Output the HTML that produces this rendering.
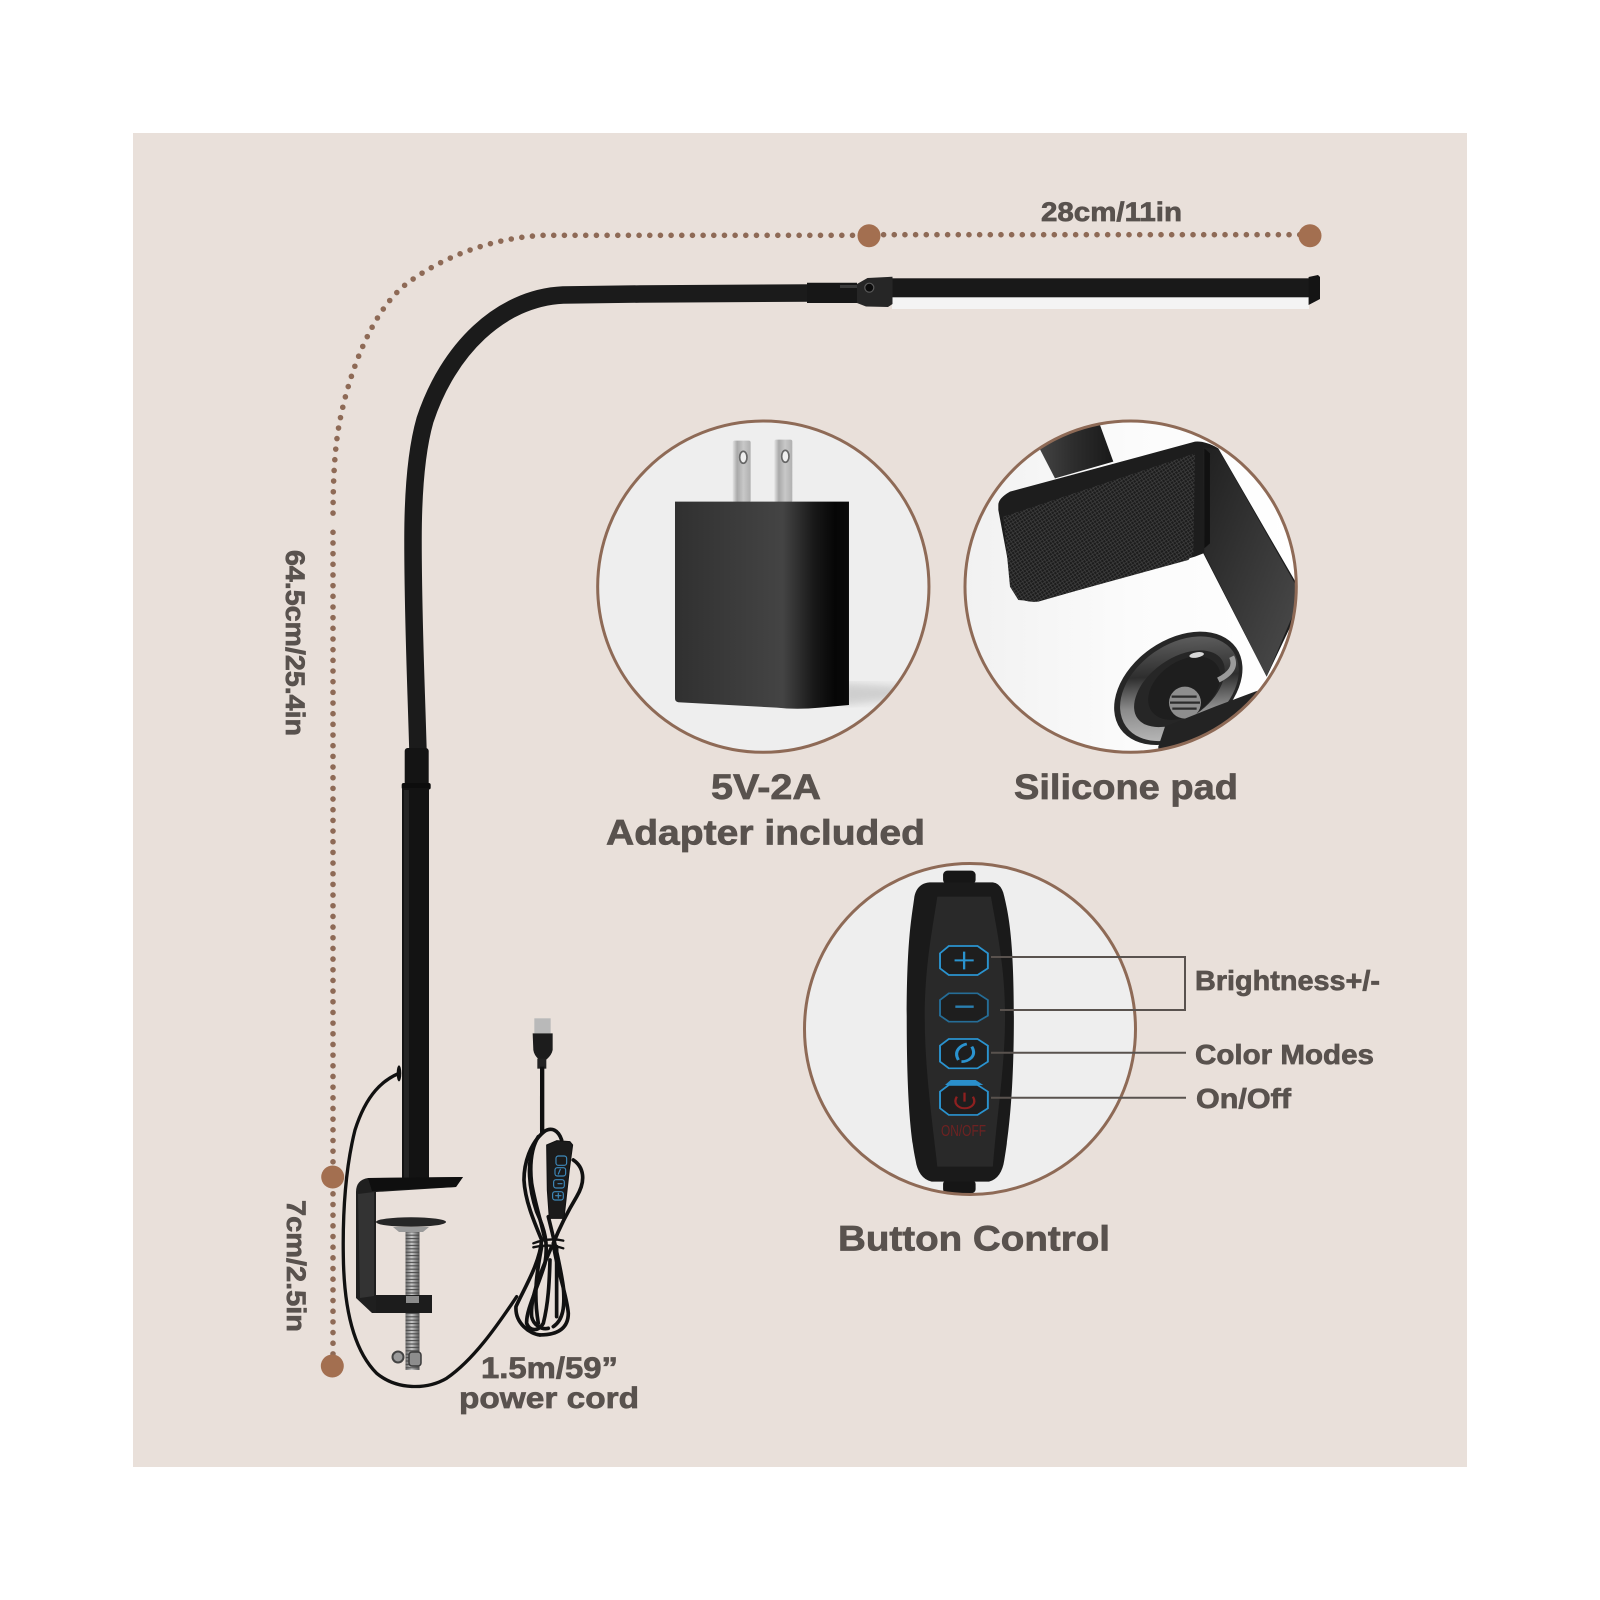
<!DOCTYPE html>
<html><head><meta charset="utf-8"><style>html,body{margin:0;padding:0;background:#fff}svg{display:block}
text{font-family:"Liberation Sans",sans-serif;font-weight:700;fill:#59524e;stroke:#59524e;stroke-width:.7}</style></head><body>
<svg xmlns="http://www.w3.org/2000/svg" width="1600" height="1600" viewBox="0 0 1600 1600">
<defs>
<clipPath id="c1"><circle cx="520" cy="530" r="497"/></clipPath>
<clipPath id="c2"><circle cx="527" cy="530" r="497"/></clipPath>
<clipPath id="c3"><circle cx="970" cy="1029" r="165.5"/></clipPath>
<linearGradient id="ad" x1="0" x2="1" y1="0" y2="0"><stop offset="0" stop-color="#303030"/><stop offset=".3" stop-color="#3a3a3a"/><stop offset=".62" stop-color="#444"/><stop offset=".8" stop-color="#181818"/><stop offset=".92" stop-color="#060606"/><stop offset="1" stop-color="#0a0a0a"/></linearGradient>
<linearGradient id="pr" x1="0" x2="1" y1="0" y2="0"><stop offset="0" stop-color="#e4e4e4"/><stop offset=".25" stop-color="#a9a9a9"/><stop offset=".6" stop-color="#c8c8c8"/><stop offset="1" stop-color="#b0b0b0"/></linearGradient>
<linearGradient id="bolt" x1="0" x2="1" y1="0" y2="0"><stop offset="0" stop-color="#6b6b6b"/><stop offset=".45" stop-color="#c9c9c9"/><stop offset="1" stop-color="#555"/></linearGradient>
<linearGradient id="srf" x1="0" x2="1" y1="0" y2="0"><stop offset="0" stop-color="#f1f1f1"/><stop offset=".5" stop-color="#fbfbfb"/><stop offset="1" stop-color="#fff"/></linearGradient>
<linearGradient id="brk" x1="0" x2="1" y1="0" y2="1"><stop offset="0" stop-color="#202020"/><stop offset="1" stop-color="#4c4c4c"/></linearGradient>
<linearGradient id="pole" x1="0" x2="1" y1="0" y2="0"><stop offset="0" stop-color="#4a4a4a"/><stop offset=".5" stop-color="#2e2e2e"/><stop offset="1" stop-color="#191919"/></linearGradient>
<linearGradient id="ring" x1="0" x2="1" y1="1" y2="0"><stop offset="0" stop-color="#c4c4c4"/><stop offset=".35" stop-color="#8b8b8b"/><stop offset=".6" stop-color="#2e2e2e"/><stop offset="1" stop-color="#6a6a6a"/></linearGradient>
<pattern id="mesh" width="13" height="13" patternUnits="userSpaceOnUse" patternTransform="rotate(12)"><rect width="13" height="13" fill="#1c1c1c"/><path d="M0 0L13 13M13 0L0 13" stroke="#444" stroke-width="1.8"/></pattern>
<pattern id="thr" width="6" height="3.4" patternUnits="userSpaceOnUse"><path d="M0 1H6" stroke="#4a4a4a" stroke-width="1.1"/></pattern>
<filter id="bl"><feGaussianBlur stdDeviation="12"/></filter>
</defs>
<rect width="1600" height="1600" fill="#fff"/>
<rect x="133" y="133" width="1334" height="1334" fill="#e9e0da"/>

<!-- dotted measures -->
<g fill="none" stroke="#8e6a56" stroke-width="5.6" stroke-linecap="round" stroke-dasharray="0 10.67">
<path d="M852.5 235.3L543.3 235.3C490 238 440 258 405 285C372 312 350 370 340 420C334 450 333 485 333 521.7"/>
<path d="M883.6 234.7L1300 234.7"/>
<path d="M333 532.3L333 1360"/>
</g>
<g fill="#a36f50"><circle cx="869" cy="235.7" r="11.5"/><circle cx="1310" cy="235.7" r="11.5"/><circle cx="332.7" cy="1177" r="11.5"/><circle cx="332.3" cy="1366" r="11.5"/></g>

<!-- lamp arm -->
<path d="M810 293L640 294L563 295C500 298 448 350 425 420C415 455 413 500 413 540C413 620 416 680 418 752" fill="none" stroke="#1b1b1b" stroke-width="17.5"/>
<rect x="404.7" y="748" width="24" height="40" rx="3" fill="#141414"/>
<rect x="401.7" y="783" width="29" height="6.5" rx="2" fill="#0d0d0d"/>
<rect x="402" y="788" width="27" height="392" fill="#131313"/>
<rect x="404" y="790" width="5" height="388" fill="#242424"/>
<!-- head -->
<rect x="892" y="297" width="417" height="12" fill="#f4f4f4"/>
<rect x="892" y="278.3" width="417" height="19" fill="#191919"/>
<path d="M1308.6 277L1318 275L1320 277L1320 299L1308.6 305Z" fill="#141414"/>
<path d="M807 282.7L857 282.7L857 303L807 303Z" fill="#171717"/>
<path d="M857 284L867.5 278L892.5 276.7L892.5 304L888 307L866 306.5L857 303Z" fill="#262626"/>
<rect x="840" y="285" width="17" height="3" fill="#3a3a3a"/>
<circle cx="869.3" cy="287.7" r="4.5" fill="#0c0c0c" stroke="#5a5a5a" stroke-width="1.2"/>

<!-- clamp -->
<path d="M356 1192Q356 1180 368 1178L463 1177L456 1187L376 1192L376 1295L432 1295L432 1313L372 1313L356 1298Z" fill="#1f1f1f"/>
<path d="M358 1194L374 1192L374 1296L360 1298Z" fill="#333"/>
<path d="M368 1178L463 1177L456 1187L372 1191Z" fill="#0f0f0f"/>
<rect x="405.5" y="1232" width="14" height="138" fill="url(#bolt)"/>
<rect x="405.5" y="1232" width="14" height="138" fill="url(#thr)"/>
<path d="M393 1227L429 1227L423 1232L399 1232Z" fill="#9a9a9a"/>
<ellipse cx="411" cy="1222" rx="35" ry="4.8" fill="#262626"/>
<rect x="376" y="1295" width="56" height="18" fill="#1c1c1c"/>
<rect x="406" y="1296" width="13" height="7" fill="#8b8b8b"/>
<circle cx="398" cy="1357" r="5.5" fill="#9a9a9a" stroke="#444" stroke-width="2"/>
<rect x="409" y="1352" width="12" height="14" rx="3" fill="#8d8d8d" stroke="#3a3a3a" stroke-width="1.5"/>

<!-- power cord -->
<g transform="translate(300,1030) scale(.3333)" fill="none" stroke="#111" stroke-linecap="round" stroke-linejoin="round">
<path d="M297 130C250 150 200 190 165 300C135 420 128 560 130 680C132 830 160 960 230 1030C290 1080 380 1080 440 1045C520 990 590 890 650 800" stroke-width="10"/>
<ellipse cx="297" cy="130" rx="7" ry="24" fill="#111" stroke="none"/>
<path d="M726 200V300" stroke-width="12"/>
<g stroke-width="11">
<path d="M732 305C690 340 672 400 672 450C675 510 700 570 725 630C720 700 670 780 648 830C645 880 690 912 720 915"/>
<path d="M732 305C755 290 775 300 785 330"/>
<path d="M715 320C690 360 690 420 695 460C705 520 725 580 735 630"/>
<path d="M700 350C682 400 685 470 710 545C735 600 745 640 735 700C715 770 678 840 680 880C690 905 715 905 730 880C745 820 748 760 750 690"/>
<path d="M820 390C850 410 860 450 830 500C800 550 780 590 760 640C770 720 800 790 805 850C805 890 780 915 720 915"/>
<path d="M745 560C760 620 780 700 790 770C795 830 790 870 760 890"/>
<path d="M755 650C725 720 690 800 695 860C700 885 725 900 745 895"/>
<path d="M770 650C770 720 770 800 770 860"/>
<path d="M725 650C710 730 700 790 715 880"/>
<path d="M700 640Q745 622 790 632M700 652Q745 640 790 655" stroke-width="7"/>
</g>
<path d="M740 345L770 332L810 335L818 345L808 420L792 565L748 565L742 480Z" fill="#1b1b1b" stroke="#111" stroke-width="3"/>
<g fill="none" stroke="#3e89bb" stroke-width="3.5">
<rect x="768" y="378" width="32" height="28" rx="7"/>
<rect x="765" y="413" width="32" height="25" rx="7"/>
<rect x="761" y="449" width="32" height="25" rx="7"/>
<rect x="758" y="485" width="32" height="25" rx="7"/>
<path d="M774 461H786M767 497H783M775 490V504M781 418L775 432"/>
</g>
</g>
<!-- USB -->
<g transform="translate(500,1000) scale(.3333)">
<rect x="103" y="55" width="49" height="45" fill="#b9b9b9"/>
<path d="M98 100H158L158 150Q155 165 140 178H116Q102 165 100 150Z" fill="#1c1c1c"/>
<rect x="112" y="176" width="27" height="30" fill="#222"/>
<rect x="120" y="200" width="13" height="200" fill="#0f0f0f"/>
</g>

<!-- adapter circle -->
<g transform="translate(590,410) scale(.3333)">
<circle cx="520" cy="530" r="497" fill="#eeeeee"/>
<g clip-path="url(#c1)">
<path d="M760 820L1010 835L900 870L760 885Z" fill="#b0b0b0" opacity=".5" filter="url(#bl)"/>
<rect x="428" y="92" width="54" height="185" rx="6" fill="url(#pr)"/>
<rect x="553" y="89" width="54" height="188" rx="6" fill="url(#pr)"/>
<ellipse cx="460" cy="142" rx="11" ry="18" fill="#efefef" stroke="#666" stroke-width="5"/>
<ellipse cx="586" cy="139" rx="11" ry="18" fill="#efefef" stroke="#666" stroke-width="5"/>
<path d="M255 275H777V885L690 893Q620 900 560 893L265 877Q255 875 255 865Z" fill="url(#ad)"/>
</g>
<circle cx="520" cy="530" r="497" fill="none" stroke="#8e6a56" stroke-width="9"/>
</g>

<!-- silicone circle -->
<g transform="translate(955,410) scale(.3333)">
<circle cx="527" cy="530" r="497" fill="url(#srf)"/>
<g clip-path="url(#c2)">
<path d="M225 60L415 -10L475 155L300 205Z" fill="url(#pole)"/>
<path d="M130 285Q130 265 165 245L720 95Q750 92 790 115L1030 530L1030 600L935 800L745 430L720 440L250 575Q190 580 175 540L130 300Z" fill="#1d1d1d"/>
<path d="M745 112L790 118L1025 530L1020 600L935 800L748 430Z" fill="url(#brk)"/>
<path d="M748 115L765 130L765 400L748 415Z" fill="#111"/>
<path d="M145 320L720 130L715 430L700 450L245 575L190 570L165 530Z" fill="url(#mesh)"/>
<g transform="rotate(-35 670 835)">
<ellipse cx="670" cy="835" rx="212" ry="145" fill="#262626"/>
<ellipse cx="672" cy="838" rx="175" ry="112" fill="none" stroke="url(#ring)" stroke-width="42"/>
<ellipse cx="685" cy="845" rx="120" ry="80" fill="#1e1e1e"/>
</g>
<ellipse cx="725" cy="735" rx="22" ry="8" transform="rotate(-10 725 735)" fill="#d8d8d8"/>
<path d="M790 810Q850 780 830 740" fill="none" stroke="#9a9a9a" stroke-width="16"/>
<circle cx="690" cy="878" r="48" fill="#8e8e8e"/>
<path d="M650 860H725M645 878H735M652 896H725" stroke="#2c2c2c" stroke-width="7"/>
<path d="M610 1010L630 950L780 890L900 845L1040 800V1040H610Z" fill="#232323"/>
</g>
<circle cx="527" cy="530" r="497" fill="none" stroke="#8e6a56" stroke-width="9"/>
</g>

<!-- button circle -->
<circle cx="970" cy="1029" r="165.5" fill="#eeeeee"/>
<g clip-path="url(#c3)">
<g transform="translate(790,850) scale(.3827,.3333)">
<rect x="400" y="62" width="85" height="40" rx="12" fill="#161616"/>
<rect x="400" y="990" width="85" height="40" rx="12" fill="#161616"/>
<path d="M365 97H530Q553 100 560 140C570 190 585 260 585 500C585 740 570 860 560 930Q553 985 520 995H370Q335 985 328 930C315 860 305 740 305 500C305 260 320 190 325 140Q332 100 365 97Z" fill="#1a1a1a"/>
<path d="M385 140H525C540 240 562 350 562 500C562 650 540 800 530 950H385C370 800 352 650 352 500C352 350 372 240 385 140Z" fill="#292929"/>
<g fill="#1e1e1e" stroke="#2a93cf" stroke-width="5">
<path d="M415 288H490L517 310V355L490 375H415L392 355V310Z"/>
<path d="M415 430H490L517 450V497L490 515H415L392 497V450Z" stroke="#256d97"/>
<path d="M415 567H490L517 587V635L490 655H415L392 635V587Z"/>
<path d="M415 705H490L517 725V775L490 795H415L392 775V725Z"/>
</g>
<path d="M420 690H485L505 705H405Z" fill="#2a8fcb"/>
<path d="M455 305V358M430 331H480" stroke="#2a93cf" stroke-width="6" fill="none"/>
<path d="M432 470H480" stroke="#2a7fb0" stroke-width="7"/>
<path d="M440 630C425 600 450 585 462 582M475 590C490 620 465 635 448 635" stroke="#2a93cf" stroke-width="8" fill="none"/>
<path d="M436 740C425 760 440 775 456 775C475 775 488 760 478 740M456 728V755" stroke="#8e2020" stroke-width="6" fill="none"/>
</g>
</g>
<text x="941" y="1136" font-size="16" textLength="45" lengthAdjust="spacingAndGlyphs" style="fill:#6e2222;stroke:none;font-weight:400">ON/OFF</text>
<circle cx="970" cy="1029" r="165.5" fill="none" stroke="#8e6a56" stroke-width="3"/>

<!-- leader lines -->
<g fill="none" stroke="#59524e" stroke-width="2">
<path d="M991 957H1185V1010H1000"/>
<path d="M991 1052.7H1186"/>
<path d="M991 1097.7H1186"/>
</g>

<!-- labels -->
<text x="1041" y="221" font-size="27" textLength="141" lengthAdjust="spacingAndGlyphs">28cm/11in</text>
<text x="711" y="799" font-size="35" textLength="110" lengthAdjust="spacingAndGlyphs">5V-2A</text>
<text x="606" y="844.5" font-size="35" textLength="319" lengthAdjust="spacingAndGlyphs">Adapter included</text>
<text x="1014" y="799" font-size="35" textLength="224" lengthAdjust="spacingAndGlyphs">Silicone pad</text>
<text x="838" y="1250.5" font-size="35" textLength="272" lengthAdjust="spacingAndGlyphs">Button Control</text>
<text x="1195" y="990" font-size="28" textLength="185" lengthAdjust="spacingAndGlyphs">Brightness+/-</text>
<text x="1195" y="1064" font-size="28" textLength="179" lengthAdjust="spacingAndGlyphs">Color Modes</text>
<text x="1196" y="1108" font-size="28" textLength="95" lengthAdjust="spacingAndGlyphs">On/Off</text>
<text x="481" y="1378" font-size="30" textLength="137" lengthAdjust="spacingAndGlyphs">1.5m/59”</text>
<text x="459" y="1408" font-size="30" textLength="180" lengthAdjust="spacingAndGlyphs">power cord</text>
<text transform="translate(286,550) rotate(90)" font-size="27" textLength="186" lengthAdjust="spacingAndGlyphs">64.5cm/25.4in</text>
<text transform="translate(287,1200) rotate(90)" font-size="27" textLength="132" lengthAdjust="spacingAndGlyphs">7cm/2.5in</text>
</svg>
</body></html>
